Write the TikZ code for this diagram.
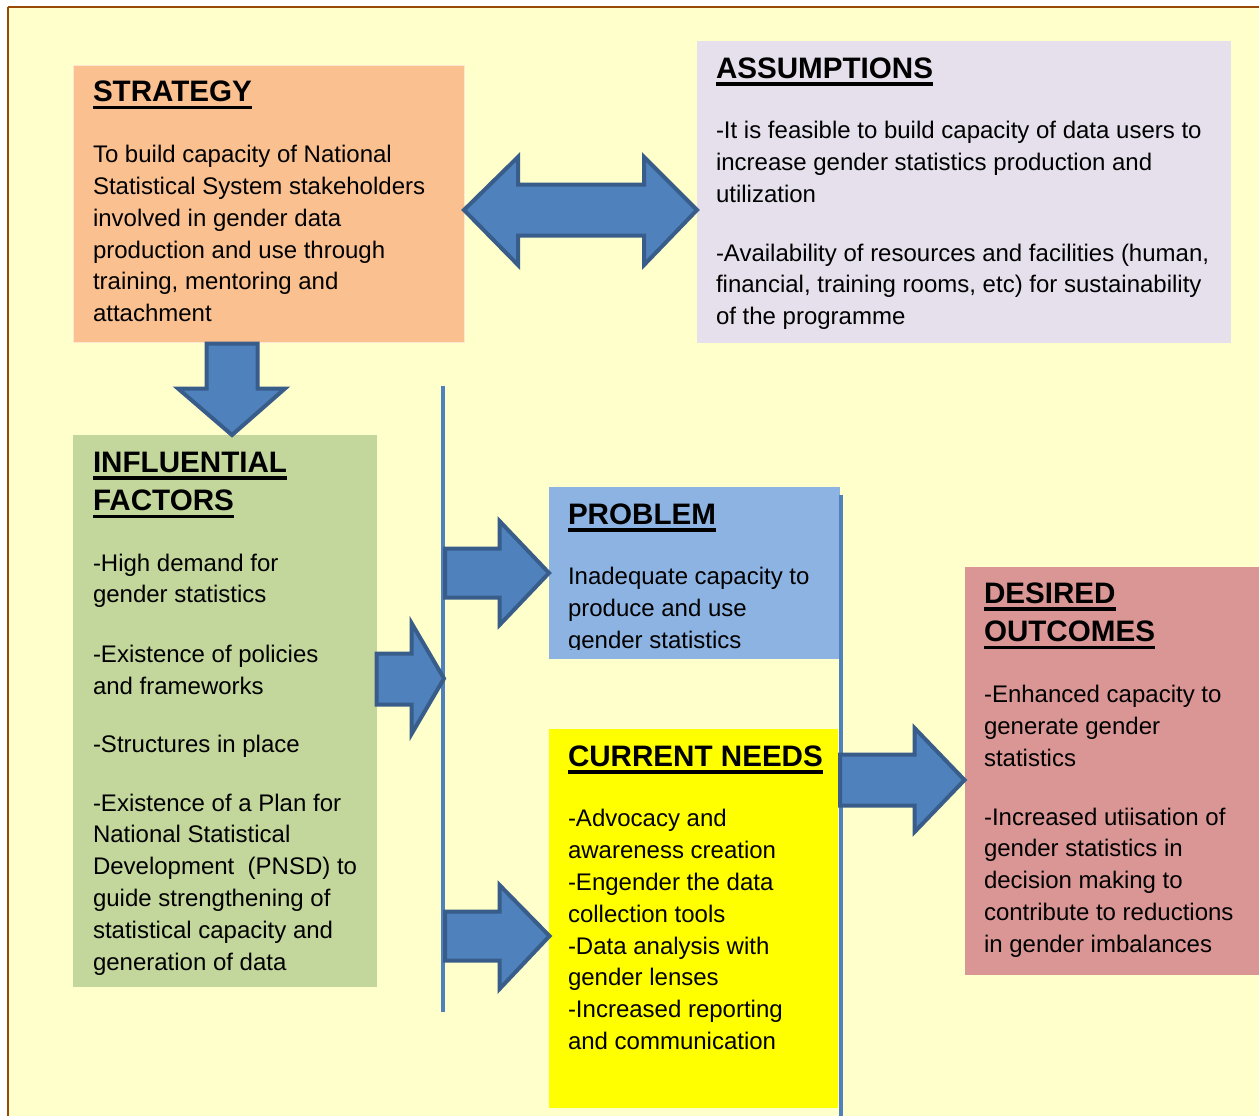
\documentclass[tikz,border=0pt]{standalone}
\usepackage{fontspec}
\setmainfont{Liberation Sans}
\definecolor{bgY}{HTML}{FFFFCC}
\definecolor{frameC}{HTML}{984807}
\definecolor{stratC}{HTML}{FAC090}
\definecolor{assumC}{HTML}{E5E0EC}
\definecolor{inflC}{HTML}{C3D69B}
\definecolor{probC}{HTML}{8DB3E2}
\definecolor{needC}{HTML}{FFFF00}
\definecolor{outC}{HTML}{D99694}
\definecolor{arrF}{HTML}{4F81BD}
\definecolor{arrD}{HTML}{385D8A}
\newcommand\hd[1]{\setbox0=\hbox{\fontsize{29.6}{35}\selectfont\bfseries #1}\rlap{\rule[-7.5pt]{\wd0}{3.8pt}}\box0}
\newcommand\tline[1]{\hbox{#1}}
\newcommand\pgap{\vskip 27pt}
\newcommand\hgap{\vskip 29pt}
\newcommand\blockstart{\fontsize{24}{31.8}\selectfont\lineskiplimit=-\maxdimen}
\tikzset{
  box/.style={inner sep=0, outer sep=0, anchor=north west},
  txt/.style={inner sep=0, outer sep=0, anchor=base west, text=black},
  blockarrow/.style={fill=arrF, draw=arrD, line width=4pt, line join=miter},
  vline/.style={draw=arrF, line width=4pt}
}
\begin{document}
\begin{tikzpicture}[x=1pt,y=-1pt]
\useasboundingbox (0,0) rectangle (1259,1116);
\clip (0,0) rectangle (1259,1116);
\fill[white] (0,0) rectangle (1259,1116);
\fill[bgY] (8,7) rectangle (1300,1150);
\draw[frameC, line width=2.2pt] (8,7) -- (1300,7);
\draw[frameC, line width=2.2pt] (8,7) -- (8,1150);

% boxes
\node[box, fill=stratC, draw=white!60!stratC, line width=0.8pt, minimum width=391pt, minimum height=277pt] (strategy) at (73,65) {};
\node[box, fill=assumC, minimum width=534pt, minimum height=302pt] (assump) at (697,41) {};
\node[box, fill=inflC, minimum width=304pt, minimum height=552pt] (infl) at (73,435) {};
\node[box, fill=probC, minimum width=291pt, minimum height=172pt] (problem) at (549,487) {};
\node[box, fill=needC, minimum width=289pt, minimum height=379pt] (needs) at (549,729) {};
\node[box, fill=outC, minimum width=300pt, minimum height=408pt] (outcomes) at (965,567) {};

% vertical bars
\coordinate (lbarT) at (443,386);
\coordinate (lbarB) at (443,1012);
\coordinate (rbarT) at (840.5,495);
\coordinate (rbarB) at (840.5,1120);
\draw[vline] (lbarT) -- (lbarB);
\draw[vline] (rbarT) -- (rbarB);

% block arrows
\draw[blockarrow] (464,210) -- (518,157) -- (518,184.5) -- (644,184.5) -- (644,157) -- (697,210) -- (644,265) -- (644,235.5) -- (518,235.5) -- (518,265) -- cycle;
\draw[blockarrow] (206.5,343.5) -- (257.5,343.5) -- (257.5,388.5) -- (285,388.5) -- (232,435) -- (178,388.5) -- (206.5,388.5) -- cycle;
\draw[blockarrow] (376.5,653.5) -- (411.5,653.5) -- (411.5,623) -- (444,678.5) -- (411.5,734) -- (411.5,704.5) -- (376.5,704.5) -- cycle;
\draw[blockarrow] (445,548.5) -- (499.5,548.5) -- (499.5,521) -- (549,573) -- (499.5,625) -- (499.5,597.5) -- (445,597.5) -- cycle;
\draw[blockarrow] (445,911.5) -- (499.5,911.5) -- (499.5,885) -- (549.5,936) -- (499.5,989) -- (499.5,960.5) -- (445,960.5) -- cycle;
\draw[blockarrow] (840,754.5) -- (914.5,754.5) -- (914.5,728) -- (964.5,780) -- (914.5,832) -- (914.5,805.5) -- (840,805.5) -- cycle;

% texts
\node[txt] (stratT) at (93,102) {\vtop{\blockstart
\tline{\hd{STRATEGY}}\hgap
\tline{To build capacity of National}
\tline{Statistical System stakeholders}
\tline{involved in gender data}
\tline{production and use through}
\tline{training, mentoring and}
\tline{attachment}}};

\node[txt] (assumT) at (716,78) {\vtop{\blockstart
\tline{\hd{ASSUMPTIONS}}\hgap
\tline{-It is feasible to build capacity of data users to}
\tline{increase gender statistics production and}
\tline{utilization}\pgap
\tline{-Availability of resources and facilities (human,}
\tline{financial, training rooms, etc) for sustainability}
\tline{of the programme}}};

\node[txt] (inflT) at (93,472) {\vtop{\blockstart
\tline{\hd{INFLUENTIAL}}\vskip 7pt
\tline{\hd{FACTORS}}\vskip 28.5pt
\tline{-High demand for}
\tline{gender statistics}\vskip 28pt
\tline{-Existence of policies}
\tline{and frameworks}\vskip 26.5pt
\tline{-Structures in place}\vskip 26.5pt
\tline{-Existence of a Plan for}
\tline{National Statistical}
\tline{Development\ \ (PNSD) to}
\tline{guide strengthening of}
\tline{statistical capacity and}
\tline{generation of data}}};

\begin{scope}
\clip (549,487) rectangle (840,649);
\node[txt] (probT) at (568,524) {\vtop{\blockstart
\tline{\hd{PROBLEM}}\hgap
\tline{Inadequate capacity to}
\tline{produce and use}
\tline{gender statistics}}};
\end{scope}

\node[txt] (needsT) at (568,766) {\vtop{\blockstart
\tline{\hd{CURRENT NEEDS}}\hgap
\tline{-Advocacy and}
\tline{awareness creation}
\tline{-Engender the data}
\tline{collection tools}
\tline{-Data analysis with}
\tline{gender lenses}
\tline{-Increased reporting}
\tline{and communication}}};

\node[txt] (outT) at (984,603) {\vtop{\blockstart
\tline{\hd{DESIRED}}\vskip 7pt
\tline{\hd{OUTCOMES}}\hgap
\tline{-Enhanced capacity to}
\tline{generate gender}
\tline{statistics}\pgap
\tline{-Increased utiisation of}
\tline{gender statistics in}
\tline{decision making to}
\tline{contribute to reductions}
\tline{in gender imbalances}}};
\end{tikzpicture}
\end{document}
